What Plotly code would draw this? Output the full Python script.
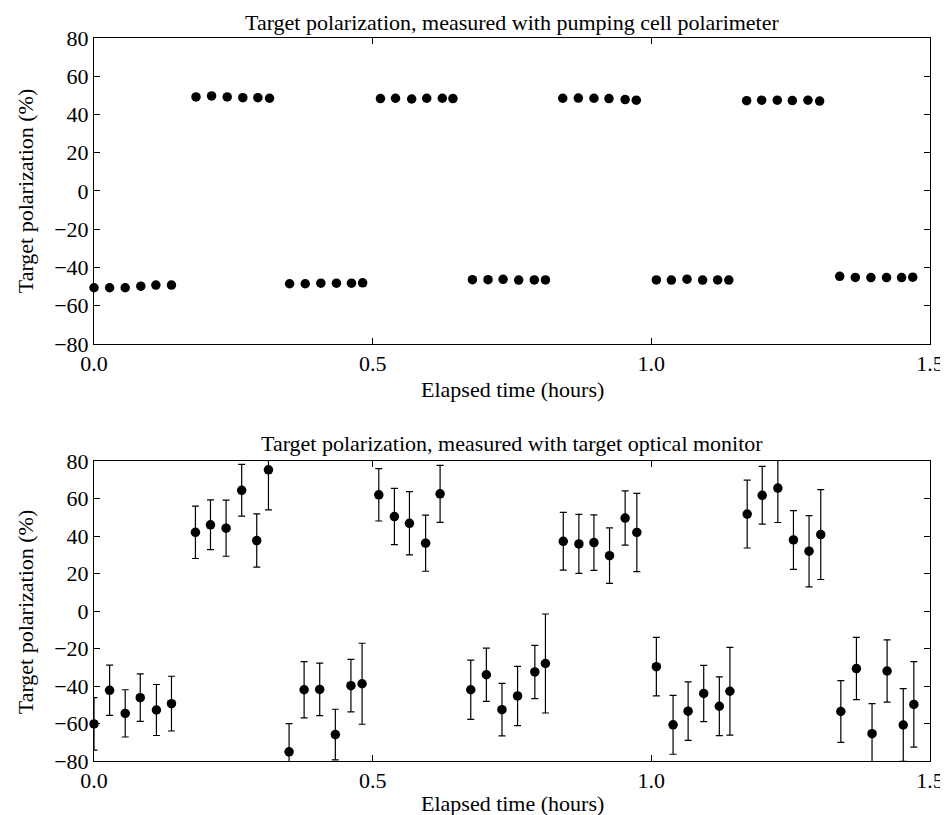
import plotly.graph_objects as go

# ---- Top panel: pumping cell polarimeter ----
t_top = [0.000, 0.028, 0.056, 0.084, 0.111, 0.139,
         0.183, 0.211, 0.239, 0.267, 0.294, 0.315,
         0.351, 0.379, 0.407, 0.435, 0.462, 0.482,
         0.514, 0.541, 0.570, 0.597, 0.625, 0.644,
         0.679, 0.707, 0.734, 0.762, 0.790, 0.810,
         0.841, 0.869, 0.897, 0.924, 0.953, 0.973,
         1.009, 1.036, 1.064, 1.092, 1.119, 1.139,
         1.171, 1.198, 1.226, 1.253, 1.281, 1.302,
         1.338, 1.366, 1.394, 1.422, 1.449, 1.469]
p_top = [-50.6, -50.6, -50.6, -49.8, -49.2, -49.2,
         49.2, 49.7, 49.2, 48.8, 48.8, 48.5,
         -48.5, -48.5, -48.2, -48.2, -48.2, -48.0,
         48.3, 48.5, 48.1, 48.5, 48.5, 48.3,
         -46.4, -46.4, -46.2, -46.6, -46.5, -46.5,
         48.5, 48.6, 48.5, 48.3, 47.8, 47.5,
         -46.5, -46.6, -46.1, -46.6, -46.5, -46.6,
         47.2, 47.5, 47.5, 47.3, 47.5, 47.0,
         -44.6, -45.2, -45.3, -45.3, -45.3, -45.1]

# ---- Bottom panel: target optical monitor ----
t_bot = [0.000, 0.028, 0.056, 0.083, 0.112, 0.139,
         0.182, 0.209, 0.237, 0.265, 0.292, 0.313,
         0.350, 0.377, 0.405, 0.433, 0.461, 0.481,
         0.511, 0.539, 0.566, 0.595, 0.621,
         0.676, 0.704, 0.732, 0.760, 0.791, 0.810,
         0.842, 0.870, 0.897, 0.925, 0.953, 0.974,
         1.009, 1.039, 1.066, 1.094, 1.122, 1.141,
         1.172, 1.199, 1.227, 1.255, 1.283, 1.304,
         1.340, 1.368, 1.396, 1.423, 1.452, 1.471]
p_bot = [-60.2, -42.3, -54.6, -46.2, -52.8, -49.4,
         42.0, 46.0, 44.2, 64.4, 37.6, 75.3,
         -75.1, -42.0, -41.8, -65.9, -39.8, -38.8,
         62.0, 50.4, 46.8, 36.2, 62.5,
         -42.0, -34.0, -52.6, -45.3, -32.5, -28.0,
         37.2, 35.8, 36.5, 29.5, 49.6, 41.9,
         -29.7, -60.7, -53.4, -44.0, -50.8, -42.8,
         51.7, 61.7, 65.6, 37.9, 31.9, 40.8,
         -53.6, -30.7, -65.4, -32.0, -60.8, -49.8]
e_bot = [14.0, 13.4, 12.6, 12.7, 13.6, 14.6,
         14.0, 13.3, 15.0, 13.8, 14.2, 21.3,
         15.0, 15.0, 14.0, 13.5, 14.0, 21.6,
         14.0, 15.0, 16.9, 15.0, 15.2,
         15.8, 14.2, 14.0, 15.8, 14.2, 26.4,
         15.4, 15.7, 14.8, 14.8, 14.5, 20.9,
         15.6, 15.7, 15.6, 15.0, 15.7, 23.4,
         18.1, 15.4, 18.4, 15.7, 19.0, 24.0,
         16.5, 16.6, 16.0, 16.6, 19.4, 22.8]

x_ticks = [0.0, 0.5, 1.0, 1.5]
x_ticktext = ["0.0", "0.5", "1.0", "1.5"]
y_ticks = [-80, -60, -40, -20, 0, 20, 40, 60, 80]

title_top = "Target polarization, measured with pumping cell polarimeter"
title_bot = "Target polarization, measured with target optical monitor"
x_title = "Elapsed time (hours)"
y_title = "Target polarization (%)"

FONT = "'Liberation Serif', 'Times New Roman', Times, serif"

fig = go.Figure()

fig.add_trace(go.Scatter(
    x=t_top, y=p_top, mode="markers", xaxis="x", yaxis="y",
    marker=dict(color="black", size=9.5), cliponaxis=False, showlegend=False))

# error bars (clipped to frame)
fig.add_trace(go.Scatter(
    x=t_bot, y=p_bot, mode="markers", xaxis="x2", yaxis="y2",
    marker=dict(color="black", size=2),
    error_y=dict(type="data", array=e_bot, visible=True, color="black",
                 thickness=1.2, width=3.5),
    cliponaxis=True, showlegend=False))
# markers (not clipped)
fig.add_trace(go.Scatter(
    x=t_bot, y=p_bot, mode="markers", xaxis="x2", yaxis="y2",
    marker=dict(color="black", size=9.5), cliponaxis=False, showlegend=False))

axis_common = dict(showline=True, linecolor="black", linewidth=1, mirror="ticks",
                   ticks="inside", ticklen=6, tickcolor="black", tickwidth=1,
                   showgrid=False, zeroline=False,
                   tickfont=dict(family=FONT, size=22, color="black"))

fig.update_layout(
    width=948, height=815,
    margin=dict(l=86, r=23, t=30, b=62),
    paper_bgcolor="white", plot_bgcolor="white",
    xaxis=dict(domain=[0, 1], range=[0, 1.5], tickvals=x_ticks, ticktext=x_ticktext,
               anchor="y", **axis_common),
    yaxis=dict(domain=[0.5768, 1.0], range=[-80, 80], tickvals=y_ticks,
               anchor="x", **axis_common),
    xaxis2=dict(domain=[0, 1], range=[0, 1.5], tickvals=x_ticks, ticktext=x_ticktext,
                anchor="y2", **axis_common),
    yaxis2=dict(domain=[0, 0.4149], range=[-80, 80], tickvals=y_ticks,
                anchor="x2", **axis_common),
)

txt_font = dict(family=FONT, size=22, color="black")
fig.add_annotation(text=title_top, xref="paper", yref="paper", x=0.5, y=1.0221,
                   xanchor="center", yanchor="middle", showarrow=False, font=txt_font)
fig.add_annotation(text=title_bot, xref="paper", yref="paper", x=0.5, y=0.4398,
                   xanchor="center", yanchor="middle", showarrow=False, font=txt_font)
fig.add_annotation(text=x_title, xref="paper", yref="paper", x=0.5, y=0.5145,
                   xanchor="center", yanchor="middle", showarrow=False, font=txt_font)
fig.add_annotation(text=x_title, xref="paper", yref="paper", x=0.5, y=-0.0581,
                   xanchor="center", yanchor="middle", showarrow=False, font=txt_font)
fig.add_annotation(text=y_title, xref="paper", yref="paper", x=-0.0810, y=0.7884,
                   xanchor="center", yanchor="middle", showarrow=False, textangle=-90,
                   font=txt_font)
fig.add_annotation(text=y_title, xref="paper", yref="paper", x=-0.0810, y=0.2061,
                   xanchor="center", yanchor="middle", showarrow=False, textangle=-90,
                   font=txt_font)

fig.write_html("out.html")
